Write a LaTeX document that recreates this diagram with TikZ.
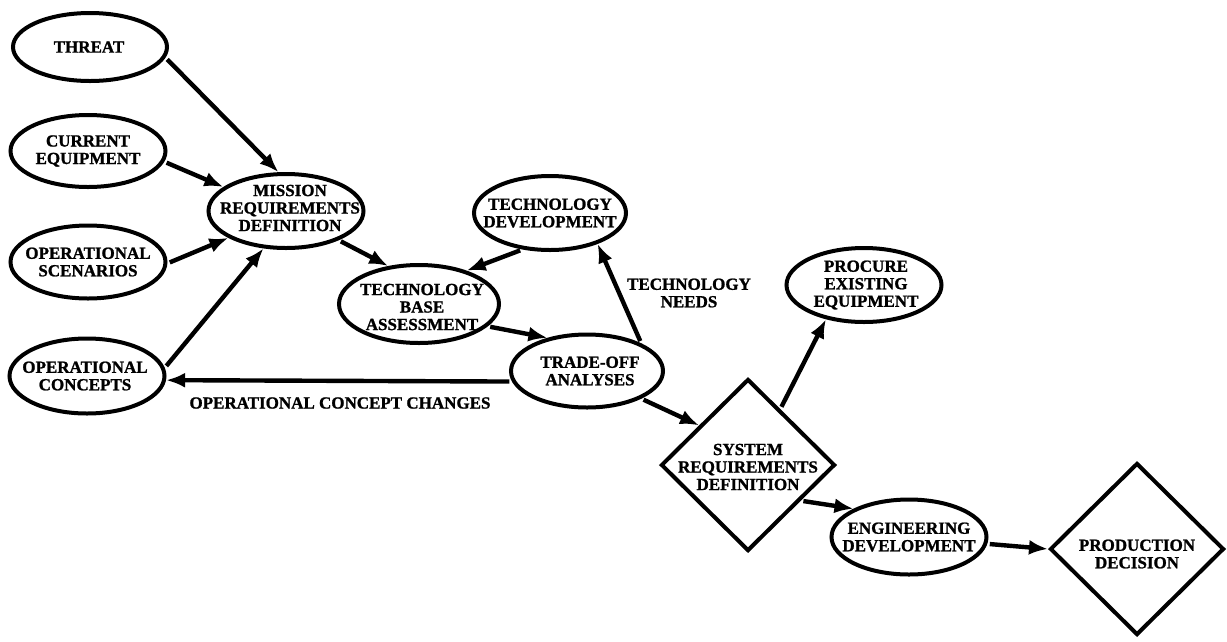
\documentclass[tikz,border=0pt]{standalone}
\usepackage{fontspec}
\setmainfont[BoldFeatures={FakeBold=1.2}]{Liberation Serif}
\usetikzlibrary{shapes.geometric,arrows.meta}
\tikzset{
 txt/.style={font=\fontsize{17}{17.5}\selectfont\bfseries,align=center,inner sep=0pt,text=black},
 oval/.style={draw=black,line width=4pt,ellipse,inner sep=0pt},
 dia/.style={draw=black,line width=4pt,diamond,inner sep=0pt,minimum width=174pt,minimum height=172pt},
 size/.style n args={2}{minimum width=#1pt,minimum height=#2pt},
 arr/.style={draw=black,line width=4.4pt,shorten <=2.5pt,-{Latex[length=19pt,width=15pt]}}
}
\begin{document}
\begin{tikzpicture}[x=1pt,y=-1pt]
\useasboundingbox (0,0) rectangle (1227,641);
\node[oval,size={154}{68},label={[txt,xshift=-1pt]center:THREAT}] (threat) at (90,47) {};
\node[oval,size={155}{72},label={[txt]center:{CURRENT\\EQUIPMENT}}] (current) at (88,151) {};
\node[oval,size={155}{73},label={[txt]center:{OPERATIONAL\\SCENARIOS}}] (scen) at (88,262) {};
\node[oval,size={155}{75},label={[txt,xshift=-2pt]center:{OPERATIONAL\\CONCEPTS}}] (conc) at (87,376) {};
\node[oval,size={155}{74},label={[txt,xshift=4pt,yshift=3pt]center:{MISSION\\REQUIREMENTS\\DEFINITION}}] (miss) at (286,211) {};
\node[oval,size={152}{74},label={[txt]center:{TECHNOLOGY\\DEVELOPMENT}}] (tdev) at (550,213) {};
\node[oval,size={160}{78},label={[txt,xshift=3pt,yshift=-3pt]center:{TECHNOLOGY\\BASE\\ASSESSMENT}}] (tbase) at (419,304) {};
\node[oval,size={152}{73},label={[txt,xshift=3pt]center:{TRADE-OFF\\ANALYSES}}] (trade) at (587,371) {};
\node[oval,size={155}{74},label={[txt,xshift=2pt]center:{PROCURE\\EXISTING\\EQUIPMENT}}] (proc) at (864,285) {};
\node[dia,label={[txt,yshift=-2pt]center:{SYSTEM\\REQUIREMENTS\\DEFINITION}}] (sys) at (748,465) {};
\node[oval,size={155}{75},label={[txt]center:{ENGINEERING\\DEVELOPMENT}}] (eng) at (909,537) {};
\node[dia,label={[txt,yshift=-5pt]center:{PRODUCTION\\DECISION}}] (prod) at (1137,549) {};
\draw[arr] (threat.-8) -- (miss.101);
\draw[arr] (current.-8) -- (miss.159);
\draw[arr] (scen.-1) -- (miss.205);
\draw[arr] (conc.6) -- (miss.239);
\draw[arr] (miss.-29) -- (tbase.129);
\draw[arr] (tdev.233) -- (tbase.35);
\draw[arr] (tbase.-18) -- (trade.140);
\draw[arr] (trade.27) -- (tdev.-33);
\draw[arr] (trade.188) -- (conc.-3);
\draw[arr] (trade.-27) -- (sys.141);
\draw[arr] (sys.60) -- (proc.222);
\draw[arr] (sys.-34) -- (eng.153);
\draw[arr] (eng.-5) -- (prod.west);
\node[txt] (needs) at (689,293) {TECHNOLOGY\\NEEDS};
\node[txt] (chg) at (340,403) {OPERATIONAL CONCEPT CHANGES};
\end{tikzpicture}
\end{document}
